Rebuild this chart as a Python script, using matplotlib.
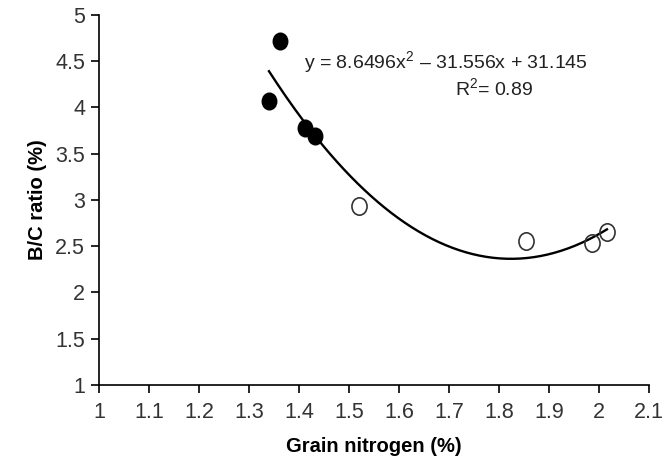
import numpy as np
import matplotlib
matplotlib.use("Agg")
import matplotlib.pyplot as plt
from matplotlib.path import Path

plt.rcParams['font.family'] = ['Liberation Sans', 'DejaVu Sans']
plt.rcParams['mathtext.fontset'] = 'custom'
plt.rcParams['mathtext.rm'] = 'Liberation Sans'
plt.rcParams['mathtext.it'] = 'Liberation Sans'

# low grain N (filled) and high grain N (open) samples
filled_n = [1.34, 1.363, 1.413, 1.433]
filled_bc = [4.07, 4.72, 3.78, 3.69]
open_n = [1.52, 1.855, 1.986, 2.016]
open_bc = [2.94, 2.56, 2.53, 2.65]

# quadratic trend: y = a x^2 + b x + c
a, b, c = 8.6496, -31.556, 31.145
r2 = 0.89

xticks = [1, 1.1, 1.2, 1.3, 1.4, 1.5, 1.6, 1.7, 1.8, 1.9, 2, 2.1]
yticks = [1, 1.5, 2, 2.5, 3, 3.5, 4, 4.5, 5]

# slightly tall ellipse marker
circ = Path.unit_circle()
oval = Path(circ.vertices * [0.87, 1.0], circ.codes)

fig = plt.figure(figsize=(6.69, 4.65), dpi=100)
ax = fig.add_axes([0.148, 0.172, 0.822, 0.796])

all_n = filled_n + open_n
xs = np.linspace(min(all_n), max(all_n), 200)
ax.plot(xs, a * xs ** 2 + b * xs + c, color='black', lw=1.7, zorder=2)

ax.plot(filled_n, filled_bc, ls='none', marker=oval, color='black',
        markersize=12, zorder=3)
ax.plot(open_n, open_bc, ls='none', marker=oval, markerfacecolor='none',
        markeredgecolor='#333333', markeredgewidth=1.2, markersize=12.5, zorder=3)

ax.text(1.41, 4.49, 'y = %.4fx$^{2}$ – %.3fx + %.3f' % (a, -b, c),
        fontsize=14, color='#222222', va='center', ha='left')
ax.text(1.79, 4.21, 'R$^{2}$= %.2f' % r2, fontsize=14, color='#222222',
        va='center', ha='center')

ax.set_xlim(1, 2.1)
ax.set_ylim(1, 5)
ax.set_xticks(xticks)
ax.set_xticklabels(['%g' % t for t in xticks])
ax.set_yticks(yticks)
ax.set_yticklabels(['%g' % t for t in yticks])
ax.tick_params(direction='out', length=6, width=1.2, labelsize=15.5,
               labelcolor='#333333')
ax.tick_params(axis='x', pad=6)
ax.tick_params(axis='y', pad=4)

for side in ['top', 'right']:
    ax.spines[side].set_visible(False)
for side in ['left', 'bottom']:
    ax.spines[side].set_linewidth(1.2)

ax.set_xlabel('Grain nitrogen (%)', fontsize=14.5, fontweight='bold', labelpad=10)
ax.set_ylabel('B/C ratio (%)', fontsize=14.5, fontweight='bold', labelpad=6)

fig.savefig('out.png', dpi=100)
